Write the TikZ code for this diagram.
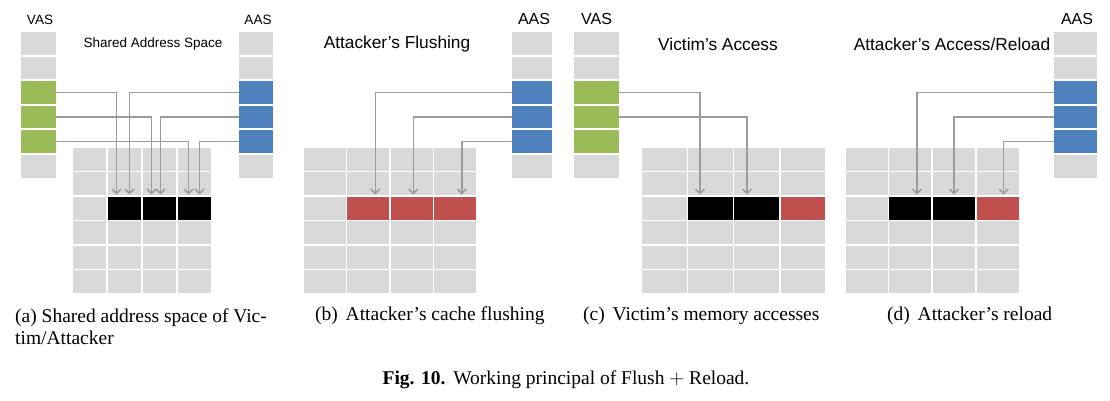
\documentclass[tikz,border=0pt]{standalone}
\usepackage{fontspec}
\setmainfont{Liberation Serif}
\setsansfont{Liberation Sans}
\usepackage{tikz}
\usetikzlibrary{arrows.meta}

\definecolor{cellgray}{HTML}{D9D9D9}
\definecolor{vgreen}{HTML}{9BBB59}
\definecolor{ablue}{HTML}{4F81BD}
\definecolor{fred}{HTML}{C0504D}
\definecolor{arrgray}{HTML}{9C9C9C}

\tikzset{
  cell/.style={fill=cellgray, inner sep=0pt, minimum height=23pt},
  arr/.style={draw=arrgray, line width=1.5pt, -{Straight Barb[length=4.5pt,width=9pt]}},
  lbl/.style={font=\fontsize{13.5}{16}\selectfont\sffamily},
  biglbl/.style={font=\fontsize{16}{19}\selectfont\sffamily},
  title/.style={font=\fontsize{17.3}{20}\selectfont\sffamily},
  captext/.style={font=\fontsize{19.5}{22}\selectfont, anchor=west, inner sep=0pt}
}

\begin{document}
\begin{tikzpicture}[x=1pt, y=-1pt]
    \useasboundingbox (0,0) rectangle (1110,400);

    % draw address space columns
    \foreach \n/\x/\w/\f in {av/38.5/35/vgreen, aa/256/34/ablue, ba/532/40/ablue, cv/596.5/45/vgreen, da/1075.5/43/ablue}{
      \foreach \i in {1,2,6}
        \node[cell, minimum width=\w pt, minimum height=22.5pt] (\n\i) at (\x, {43.25+24.6*(\i-1)}) {};
      \foreach \i in {3,4,5}
        \node[cell, fill=\f, minimum width=\w pt, minimum height=22.5pt] (\n\i) at (\x, {43.25+24.6*(\i-1)}) {};
    }

    % draw cache grids
    \foreach \p/\x/\w in {a/72/35, b/303/43.5, c/641/46.25, d/845/43.6}
      \foreach \r in {1,...,6}
        \foreach \c in {1,...,4}
          \node[cell, minimum width=\w pt-1.5pt] (\p-\r-\c) at ({\x+\w*(\c-1)+\w/2}, {159.5+24.4*(\r-1)}) {};

    % draw cache lines
    \foreach \c in {2,3,4}
      \node[cell, fill=black, minimum width=33.5pt] at (a-3-\c) {};
    \foreach \c in {2,3,4}
      \node[cell, fill=fred, minimum width=42pt] at (b-3-\c) {};
    \foreach \c in {2,3}
      \node[cell, fill=black, minimum width=44.75pt] at (c-3-\c) {};
    \node[cell, fill=fred, minimum width=44.75pt] at (c-3-4) {};
    \foreach \c in {2,3}
      \node[cell, fill=black, minimum width=42.1pt] at (d-3-\c) {};
    \node[cell, fill=fred, minimum width=42.1pt] at (d-3-4) {};

    % draw labels
    \node[lbl] (vasa) at (40,20) {VAS};
    \node[lbl] (aasa) at (258,20) {AAS};
    \node[biglbl] (aasb) at (534,19) {AAS};
    \node[biglbl] (vasc) at (596.5,19) {VAS};
    \node[biglbl] (aasd) at (1077,19) {AAS};

    \node[lbl] (ta) at (153,44) {Shared Address Space};
    \node[title] (tb) at (397,44) {Attacker’s Flushing};
    \node[title] (tc) at (718,44) {Victim’s Access};
    \node[title] (td) at (952,44) {Attacker’s Access/Reload};

    % draw arrows
    \draw[arr] (av3.east) -| ([xshift=-8pt,yshift=2pt]a-3-2.north);
    \draw[arr] (aa3.west) -| ([xshift=5pt,yshift=2pt]a-3-2.north);
    \draw[arr] (av4.east) -| ([xshift=-8pt,yshift=2pt]a-3-3.north);
    \draw[arr] (aa4.west) -| ([xshift=1pt,yshift=2pt]a-3-3.north);
    \draw[arr] (av5.east) -| ([xshift=-6pt,yshift=2pt]a-3-4.north);
    \draw[arr] (aa5.west) -| ([xshift=5pt,yshift=2pt]a-3-4.north);

    \draw[arr] (ba3.west) -| ([xshift=7pt,yshift=2pt]b-3-2.north);
    \draw[arr] (ba4.west) -| ([xshift=1.5pt,yshift=2pt]b-3-3.north);
    \draw[arr] (ba5.west) -| ([xshift=6.5pt,yshift=2pt]b-3-4.north);

    \draw[arr] (cv3.east) -| ([xshift=-10.5pt,yshift=2pt]c-3-2.north);
    \draw[arr] (cv4.east) -| ([xshift=-9.5pt,yshift=2pt]c-3-3.north);

    \draw[arr] (da3.west) -| ([xshift=6.5pt,yshift=2pt]d-3-2.north);
    \draw[arr] (da4.west) -| ([yshift=2pt]d-3-3.north);
    \draw[arr] (da5.west) -| ([xshift=6pt,yshift=2pt]d-3-4.north);

    % draw captions
    \node[captext, align=left] (capa) at (15,327) {(a) Shared address space of Vic-\\tim/Attacker};
    \node[captext] (capb) at (315,316) {(b)\hspace{0.4em}Attacker’s cache flushing};
    \node[captext] (capc) at (583,316) {(c)\hspace{0.4em}Victim’s memory accesses};
    \node[captext] (capd) at (887,316) {(d)\hspace{0.4em}Attacker’s reload};

    \node[captext, anchor=center] (fig) at (566,380) {\textbf{Fig. 10.}\hspace{0.4em}Working principal of Flush $+$ Reload.};

  \end{tikzpicture}
\end{document}
